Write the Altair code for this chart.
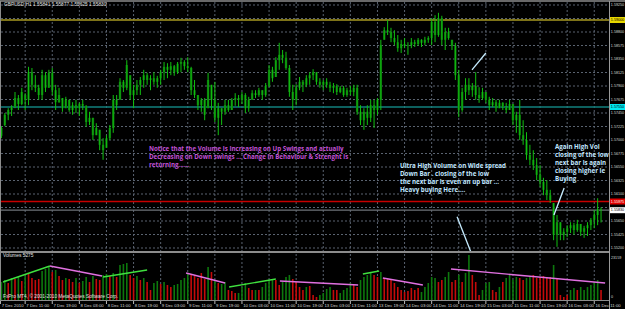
import altair as alt
import pandas as pd

# ---------------- data (GBPUSD H1) ----------------
high = [1.5723,1.5745,1.5753,1.5758,1.5780,1.5775,1.5787,1.5778,1.5822,1.5820,
        1.5808,1.5792,1.5817,1.5813,1.5817,1.5820,1.5792,1.5787,1.5770,1.5772,
        1.5767,1.5763,1.5767,1.5762,1.5767,1.5758,1.5747,1.5737,1.5728,1.5717,
        1.5703,1.5708,1.5725,1.5775,1.5775,1.5803,1.5800,1.5833,1.5808,1.5792,
        1.5800,1.5805,1.5817,1.5812,1.5808,1.5813,1.5807,1.5817,1.5830,1.5828,
        1.5830,1.5825,1.5830,1.5837,1.5833,1.5838,1.5822,1.5800,1.5775,1.5770,
        1.5770,1.5812,1.5792,1.5797,1.5762,1.5753,1.5767,1.5767,1.5770,1.5778,
        1.5775,1.5780,1.5778,1.5772,1.5783,1.5783,1.5787,1.5783,1.5795,1.5825,
        1.5822,1.5838,1.5862,1.5850,1.5847,1.5825,1.5792,1.5793,1.5805,1.5800,
        1.5808,1.5813,1.5818,1.5813,1.5803,1.5800,1.5803,1.5797,1.5795,1.5793,
        1.5790,1.5790,1.5787,1.5790,1.5792,1.5792,1.5758,1.5753,1.5758,1.5767,
        1.5767,1.5770,1.5867,1.5888,1.5900,1.5887,1.5883,1.5875,1.5867,1.5870,
        1.5863,1.5870,1.5867,1.5870,1.5868,1.5872,1.5873,1.5903,1.5908,1.5912,
        1.5907,1.5887,1.5887,1.5867,1.5862,1.5817,1.5787,1.5803,1.5803,1.5795,
        1.5813,1.5788,1.5787,1.5780,1.5772,1.5770,1.5767,1.5767,1.5763,1.5762,
        1.5767,1.5760,1.5747,1.5767,1.5733,1.5713,1.5692,1.5683,1.5670,1.5658,
        1.5637,1.5633,1.5617,1.5595,1.5575,1.5563,1.5553,1.5558,1.5563,1.5562,
        1.5567,1.5560,1.5557,1.5563,1.5570,1.5583,1.5603,1.55877]
low = [1.5703,1.5723,1.5733,1.5740,1.5753,1.5750,1.5758,1.5750,1.5758,1.5783,
       1.5780,1.5767,1.5767,1.5780,1.5787,1.5775,1.5750,1.5762,1.5747,1.5753,
       1.5747,1.5742,1.5745,1.5740,1.5750,1.5722,1.5725,1.5700,1.5708,1.5683,
       1.5667,1.5687,1.5700,1.5712,1.5750,1.5767,1.5780,1.5783,1.5767,1.5753,
       1.5775,1.5775,1.5787,1.5792,1.5783,1.5792,1.5787,1.5792,1.5800,1.5803,
       1.5808,1.5807,1.5810,1.5813,1.5817,1.5813,1.5775,1.5770,1.5750,1.5747,
       1.5733,1.5753,1.5750,1.5730,1.5708,1.5725,1.5742,1.5747,1.5750,1.5757,
       1.5755,1.5760,1.5745,1.5747,1.5767,1.5770,1.5772,1.5767,1.5772,1.5788,
       1.5797,1.5805,1.5817,1.5828,1.5817,1.5772,1.5750,1.5758,1.5783,1.5780,
       1.5788,1.5792,1.5800,1.5792,1.5787,1.5783,1.5787,1.5780,1.5778,1.5775,
       1.5778,1.5772,1.5772,1.5775,1.5773,1.5742,1.5725,1.5717,1.5725,1.5730,
       1.5720,1.5742,1.5750,1.5867,1.5875,1.5863,1.5858,1.5847,1.5845,1.5853,
       1.5842,1.5853,1.5855,1.5857,1.5855,1.5858,1.5862,1.5858,1.5863,1.5872,
       1.5858,1.5850,1.5867,1.5850,1.5800,1.5738,1.5747,1.5767,1.5775,1.5772,
       1.5767,1.5762,1.5767,1.5762,1.5750,1.5755,1.5747,1.5753,1.5750,1.5745,
       1.5750,1.5725,1.5712,1.5700,1.5692,1.5667,1.5658,1.5650,1.5633,1.5622,
       1.5608,1.5600,1.5595,1.5533,1.5522,1.5533,1.5533,1.5538,1.5545,1.5542,
       1.5547,1.5540,1.5537,1.5540,1.5550,1.5553,1.5558,1.55625]
open_ = [1.5707,1.5725,1.5742,1.5750,1.5755,1.5770,1.5760,1.5775,1.5767,1.5813,
         1.5792,1.5787,1.5775,1.5808,1.5787,1.5812,1.5783,1.5763,1.5770,1.5753,
         1.5767,1.5750,1.5758,1.5753,1.5760,1.5757,1.5730,1.5737,1.5708,1.5717,
         1.5692,1.5687,1.5703,1.5720,1.5767,1.5767,1.5797,1.5787,1.5808,1.5775,
         1.5783,1.5792,1.5800,1.5808,1.5800,1.5803,1.5797,1.5803,1.5813,1.5822,
         1.5817,1.5823,1.5813,1.5827,1.5830,1.5823,1.5820,1.5783,1.5775,1.5758,
         1.5767,1.5753,1.5792,1.5767,1.5737,1.5753,1.5747,1.5758,1.5750,1.5767,
         1.5770,1.5767,1.5775,1.5753,1.5767,1.5778,1.5775,1.5783,1.5775,1.5790,
         1.5817,1.5805,1.5833,1.5842,1.5837,1.5820,1.5780,1.5767,1.5787,1.5797,
         1.5792,1.5803,1.5808,1.5813,1.5797,1.5792,1.5797,1.5792,1.5787,1.5790,
         1.5780,1.5787,1.5775,1.5783,1.5780,1.5787,1.5747,1.5733,1.5747,1.5737,
         1.5758,1.5750,1.5767,1.5867,1.5883,1.5880,1.5870,1.5863,1.5853,1.5860,
         1.5857,1.5858,1.5863,1.5860,1.5867,1.5862,1.5867,1.5870,1.5897,1.5875,
         1.5903,1.5867,1.5880,1.5867,1.5857,1.5808,1.5750,1.5780,1.5792,1.5783,
         1.5790,1.5775,1.5770,1.5780,1.5767,1.5758,1.5763,1.5753,1.5762,1.5755,
         1.5750,1.5760,1.5733,1.5742,1.5708,1.5700,1.5675,1.5667,1.5658,1.5642,
         1.5630,1.5617,1.5608,1.5595,1.5542,1.5563,1.5542,1.5547,1.5553,1.5558,
         1.5550,1.5560,1.5547,1.5553,1.5558,1.5567,1.5575,1.55841]
close = [1.5720,1.5742,1.5750,1.5755,1.5770,1.5760,1.5780,1.5767,1.5813,1.5792,
         1.5787,1.5775,1.5808,1.5787,1.5812,1.5783,1.5763,1.5775,1.5753,1.5767,
         1.5750,1.5758,1.5753,1.5760,1.5757,1.5730,1.5737,1.5708,1.5720,1.5692,
         1.5683,1.5703,1.5720,1.5767,1.5758,1.5797,1.5787,1.5825,1.5775,1.5783,
         1.5792,1.5800,1.5808,1.5800,1.5803,1.5797,1.5803,1.5813,1.5822,1.5817,
         1.5823,1.5813,1.5827,1.5830,1.5823,1.5820,1.5783,1.5775,1.5758,1.5767,
         1.5742,1.5800,1.5767,1.5737,1.5753,1.5747,1.5758,1.5750,1.5767,1.5770,
         1.5767,1.5775,1.5753,1.5767,1.5778,1.5775,1.5783,1.5775,1.5790,1.5817,
         1.5803,1.5833,1.5842,1.5837,1.5820,1.5780,1.5767,1.5787,1.5797,1.5792,
         1.5803,1.5808,1.5813,1.5797,1.5792,1.5797,1.5792,1.5787,1.5790,1.5780,
         1.5787,1.5775,1.5783,1.5780,1.5787,1.5747,1.5733,1.5747,1.5737,1.5758,
         1.5750,1.5767,1.5858,1.5883,1.5880,1.5870,1.5863,1.5853,1.5860,1.5857,
         1.5858,1.5863,1.5860,1.5867,1.5862,1.5867,1.5870,1.5897,1.5875,1.5903,
         1.5867,1.5880,1.5870,1.5857,1.5808,1.5750,1.5780,1.5792,1.5783,1.5790,
         1.5775,1.5770,1.5780,1.5767,1.5758,1.5763,1.5753,1.5762,1.5755,1.5750,
         1.5760,1.5733,1.5742,1.5708,1.5700,1.5675,1.5667,1.5658,1.5642,1.5630,
         1.5617,1.5608,1.5600,1.5542,1.5563,1.5542,1.5547,1.5553,1.5558,1.5550,
         1.5560,1.5547,1.5553,1.5558,1.5567,1.5575,1.5585,1.55830]
volume = [8640,9600,8160,10560,10080,11040,9120,11520,12960,10560,
          9600,10080,13920,14880,15840,13440,14400,11520,9600,10560,
          10080,8640,10560,8160,9120,11040,8640,11520,10080,9600,
          12000,12480,11520,12960,11040,16800,17280,17760,12000,10560,
          11520,9600,10560,8640,4800,8160,9120,7680,8640,7200,
          6240,7200,7680,9600,10560,12960,12000,11520,10560,12960,
          10080,15840,13440,9600,8160,7680,8640,4800,4320,3360,
          3360,6240,8160,5760,4800,4800,4800,6240,8160,9600,
          10080,9600,7200,8640,11040,12000,10080,8640,6240,4800,
          6240,6720,2400,1440,2400,3360,5280,6240,4800,4800,
          3360,4800,5760,8160,7200,6240,9600,11040,12000,12960,
          12000,11040,13440,10560,10080,9600,8160,6240,4800,3840,
          4320,5760,4800,5760,3840,6240,8160,11040,10560,8640,
          9600,11040,13440,8640,9600,12000,8640,12960,21600,12000,
          8640,2400,4800,8160,8640,4800,3840,6240,8640,10560,
          12000,9600,11040,10560,9600,10560,11040,12000,10560,11040,
          11520,11040,11040,16800,10560,2400,1440,2400,4800,5760,
          4800,6240,4800,6240,7200,8640,9600,4800]
vol_dir_rows = ["GGRGRGRGRR", "RRGGGRGRRG", "RRGRGGRGRR", "GGRGRGGGRR", "GRGRRGGRGR",
                "RGGGGGRRRR", "RGRGRGGRRR", "GGGRRGRGGG", "GRRGGGRRRR", "GRRRGGGGRR",
                "GGGGRRGGGG", "RRGRRRRRRR", "RRRRGGGGGR", "RGGRRGRGGR", "RRGGGRRGRG",
                "GGGRRGGRRR", "RRRGRRRRGG", "RGGGGGGR"]
vol_dir = list("".join(vol_dir_rows))

time_labels = ["7 Dec 2010", "7 Dec 11:00", "7 Dec 19:00", "8 Dec 03:00", "8 Dec 11:00",
               "8 Dec 19:00", "9 Dec 03:00", "9 Dec 11:00", "9 Dec 19:00", "10 Dec 03:00",
               "10 Dec 11:00", "10 Dec 19:00", "13 Dec 03:00", "13 Dec 11:00", "13 Dec 19:00",
               "14 Dec 03:00", "14 Dec 11:00", "14 Dec 19:00", "15 Dec 03:00", "15 Dec 11:00",
               "15 Dec 19:00", "16 Dec 03:00", "16 Dec 11:00"]
time_label_bar = [-0.3, 7, 15, 23, 31, 39, 47, 55, 63, 71, 79, 87, 95, 103, 111, 119,
                  127, 135, 143, 151, 159, 167, 175]
grid_bar = [7, 15, 23, 31, 39, 47, 55, 63, 71, 79, 87, 95, 103, 111, 119,
            127, 135, 143, 151, 159, 167, 175]

# price grid (the 1.59025 and 1.55875 labels sit under the coloured level boxes)
price_ticks = [1.59250, 1.59025, 1.58800, 1.58575, 1.58350, 1.58125, 1.57900, 1.57675,
               1.57450, 1.57225, 1.57000, 1.56775, 1.56550, 1.56325, 1.56100, 1.55875,
               1.55650, 1.55425, 1.55200]
price_label_vals = [1.59250, 1.58800, 1.58575, 1.58350, 1.58125, 1.57900, 1.57675,
                    1.57450, 1.57225, 1.57000, 1.56775, 1.56550, 1.56325, 1.56100,
                    1.55650, 1.55425, 1.55200]
price_label_text = ["1.59250", "1.58800", "1.58575", "1.58350", "1.58125",
                    "1.57900", "1.57675", "1.57450", "1.57225", "1.57000", "1.56775",
                    "1.56550", "1.56325", "1.56100", "1.55650", "1.55425", "1.55200"]

level_prices = [1.5900, 1.5755, 1.55975, 1.5583]
level_labels = ["1.59000", "1.57550", "1.55975", "1.55830"]
level_colors = ["#a89a20", "#12807e", "#c80000", "#6e7378"]
level_box = ["#e8d800", "#00e8f0", "#e00000", "#ffffff"]
level_text = ["#000000", "#000000", "#ffffff", "#000000"]

trend_x1 = [0.46, 14.3, 30.0, 54.5, 67.2, 82.2, 106.7, 112.6, 132.7]
trend_v1 = [8640, 16320, 11040, 12960, 6240, 9120, 12480, 10560, 14880]
trend_x2 = [14.3, 29.7, 43.0, 66.0, 81.0, 105.3, 111.5, 124.4, 178.2]
trend_v2 = [16320, 11520, 14400, 8160, 10080, 7200, 13920, 7200, 8160]
trend_kind = ["up", "down", "up", "down", "up", "down", "up", "down", "down"]

ann_x1 = [138.9, 134.5, 166.1]
ann_p1 = [1.5817, 1.5572, 1.5620]
ann_x2 = [143.0, 138.6, 163.1]
ann_p2 = [1.5845, 1.5513, 1.5575]

title_text = "GBPUSD,H1  1.55841 1.55877 1.55625 1.55830"
note_purple = ("Notice that the Volume is Increasing on Up Swings and actually\n"
               "Decreasing on Down swings ... Change in Behaviour  & Strenght is\n"
               "returning......")
note_blue1 = ("Ultra High Volume on Wide spread\nDown Bar . closing of the low\n"
              "the next bar is even an up bar ...\nHeavy buying Here....")
note_blue2 = "Again High Vol\nclosing of the low\nnext bar is again\nclosing higher ie\nBuying"

# ---------------- frames ----------------
bars = pd.DataFrame({"i": list(range(len(high))), "high": high, "low": low,
                     "open": open_, "close": close, "volume": volume, "vdir": vol_dir})
tl = pd.DataFrame({"k": time_label_bar, "label": time_labels})
gl = pd.DataFrame({"k": grid_bar})
pt = pd.DataFrame({"p": price_ticks})
pl = pd.DataFrame({"p": price_label_vals, "label": price_label_text})
lv = pd.DataFrame({"p": level_prices, "label": level_labels, "lc": level_colors,
                   "bc": level_box, "tc": level_text})
tr = pd.DataFrame({"x1": trend_x1, "v1": trend_v1, "x2": trend_x2, "v2": trend_v2,
                   "kind": trend_kind})
an = pd.DataFrame({"x1": ann_x1, "p1": ann_p1, "x2": ann_x2, "p2": ann_p2})

XS = alt.Scale(domain=[0, 177], range=[1.45, 601.04], nice=False, zero=False)
PS = alt.Scale(domain=[1.5515, 1.5930], range=[251, 2], nice=False, zero=False)
VS = alt.Scale(domain=[0, 23040], range=[300, 252], nice=False, zero=False)


def X(f):
    return alt.X(f, type="quantitative", scale=XS, axis=None)


def P(f):
    return alt.Y(f, type="quantitative", scale=PS, axis=None)


def V(f):
    return alt.Y(f, type="quantitative", scale=VS, axis=None)


GRID = "#5a6370"
FONT = "Liberation Sans"
AX = 4.3
PX = 3.7

hgrid = alt.Chart(pt).mark_rule(color=GRID, strokeDash=[2, 2], strokeWidth=1).encode(
    y=P("p"), x=alt.value(1), x2=alt.value(609))
vgrid = alt.Chart(gl).mark_rule(color=GRID, strokeDash=[2, 2], strokeWidth=1).encode(
    x=X("k"), y=alt.value(2), y2=alt.value(300))

levels = alt.Chart(lv).mark_rule(strokeWidth=1.3).encode(
    y=P("p"), x=alt.value(1), x2=alt.value(609), color=alt.Color("lc:N", scale=None))

vol = alt.Chart(bars).mark_rule(strokeWidth=1.6).encode(
    x=X("i"), y=V("volume"), y2=alt.value(300),
    color=alt.Color("vdir:N", scale=alt.Scale(domain=["G", "R"], range=["#0d780d", "#c40a0a"]),
                    legend=None))

trend = alt.Chart(tr).mark_rule(strokeWidth=1.4).encode(
    x=X("x1"), x2=alt.X2("x2"), y=V("v1"), y2=alt.Y2("v2"),
    color=alt.Color("kind:N", scale=alt.Scale(domain=["up", "down"], range=["#3fe03f", "#e070e0"]),
                    legend=None))

body = alt.Chart(bars).mark_rule(strokeWidth=2.4, color="#0a6a0a").encode(
    x=X("i"), y=P("open"), y2=alt.Y2("close"))
wick = alt.Chart(bars).mark_rule(strokeWidth=1, color="#10c010").encode(
    x=X("i"), y=P("high"), y2=alt.Y2("low"))

ann = alt.Chart(an).mark_rule(strokeWidth=1.3, color="#c6ecff").encode(
    x=X("x1"), x2=alt.X2("x2"), y=P("p1"), y2=alt.Y2("p2"))

# frame lines
frame_df = pd.DataFrame({"d": [0]})
top_line = alt.Chart(frame_df).mark_rule(color="#8c8c8c", strokeWidth=1.5).encode(
    x=alt.value(0), x2=alt.value(625), y=alt.value(1))
left_line = alt.Chart(frame_df).mark_rule(color="#8c8c8c", strokeWidth=1).encode(
    x=alt.value(0.5), y=alt.value(1), y2=alt.value(301))
right_line = alt.Chart(frame_df).mark_rule(color="#9a9a9a", strokeWidth=1).encode(
    x=alt.value(609.5), y=alt.value(1), y2=alt.value(309))
sep_line = alt.Chart(frame_df).mark_rule(color="#8c8c8c", strokeWidth=2).encode(
    x=alt.value(0), x2=alt.value(609), y=alt.value(252))
bot_line = alt.Chart(frame_df).mark_rule(color="#8c8c8c", strokeWidth=1).encode(
    x=alt.value(0), x2=alt.value(609), y=alt.value(300.5))

# axis labels
price_lab = alt.Chart(pl).mark_text(align="left", baseline="middle", fontSize=PX,
                                    font=FONT, color="#d8d8d8").encode(
    y=P("p"), x=alt.value(610.8), text="label:N")
lv_box = alt.Chart(lv).mark_rule(strokeWidth=6).encode(
    y=P("p"), x=alt.value(610), x2=alt.value(625), color=alt.Color("bc:N", scale=None))
lv_text = alt.Chart(lv).mark_text(align="left", baseline="middle", fontSize=PX,
                                  font=FONT).encode(
    y=P("p"), x=alt.value(610.8), text="label:N", color=alt.Color("tc:N", scale=None))
time_ticks = alt.Chart(tl).mark_rule(color="#bbbbbb", strokeWidth=1).encode(
    x=X("k"), y=alt.value(301), y2=alt.value(304))
time_lab = alt.Chart(tl).mark_text(align="left", baseline="middle", fontSize=AX, dx=1.2,
                                   font=FONT, color="#d8d8d8").encode(
    x=X("k"), y=alt.value(305.5), text="label:N")

vol_top = alt.Chart(frame_df).mark_text(align="left", baseline="middle", fontSize=PX,
                                        font=FONT, color="#d8d8d8").encode(
    x=alt.value(611), y=alt.value(258), text=alt.value("23159"))
vol_zero = alt.Chart(frame_df).mark_text(align="left", baseline="middle", fontSize=PX,
                                         font=FONT, color="#d8d8d8").encode(
    x=alt.value(611), y=alt.value(297), text=alt.value("0"))

title = alt.Chart(frame_df).mark_text(align="left", baseline="middle", fontSize=4.8,
                                      font=FONT, color="#e0e0e0").encode(
    x=alt.value(4), y=alt.value(5), text=alt.value(title_text))
vol_title = alt.Chart(frame_df).mark_text(align="left", baseline="middle", fontSize=4.8,
                                          font=FONT, color="#e0e0e0").encode(
    x=alt.value(3), y=alt.value(256), text=alt.value("Volumes 5275"))
copyright_ = alt.Chart(frame_df).mark_text(align="left", baseline="middle", fontSize=4.8,
                                           font=FONT, color="#e0e0e0").encode(
    x=alt.value(3), y=alt.value(297), text=alt.value("FxPro MT4, \u00a9 2001-2010 MetaQuotes Software Corp."))

t_purple = alt.Chart(frame_df).mark_text(align="left", baseline="top", fontSize=6.2,
                                         font="Open Sans", fontWeight="bold", lineBreak="\n",
                                         lineHeight=8, color="#c052d6").encode(
    x=alt.value(149), y=alt.value(146), text=alt.value(note_purple))
t_blue1 = alt.Chart(frame_df).mark_text(align="left", baseline="top", fontSize=6.2,
                                        font="Open Sans", fontWeight="bold", lineBreak="\n",
                                        lineHeight=8, color="#c0e6ff").encode(
    x=alt.value(400), y=alt.value(163), text=alt.value(note_blue1))
t_blue2 = alt.Chart(frame_df).mark_text(align="left", baseline="top", fontSize=6.2,
                                        font="Open Sans", fontWeight="bold", lineBreak="\n",
                                        lineHeight=8, color="#c0e6ff").encode(
    x=alt.value(555), y=alt.value(144), text=alt.value(note_blue2))

chart = alt.layer(
    hgrid, vgrid, levels, vol, trend, body, wick, ann,
    top_line, left_line, right_line, sep_line, bot_line,
    price_lab, lv_box, lv_text, time_ticks, time_lab, vol_top, vol_zero,
    title, vol_title, copyright_, t_purple, t_blue1, t_blue2
).resolve_scale(
    y="independent", color="independent"
).properties(
    width=625, height=309, autosize=alt.AutoSizeParams(type="none"), padding=0,
    background="#000000"
).configure_view(stroke=None)

chart.save("out.html", embed_options={"renderer": "svg", "actions": False})
